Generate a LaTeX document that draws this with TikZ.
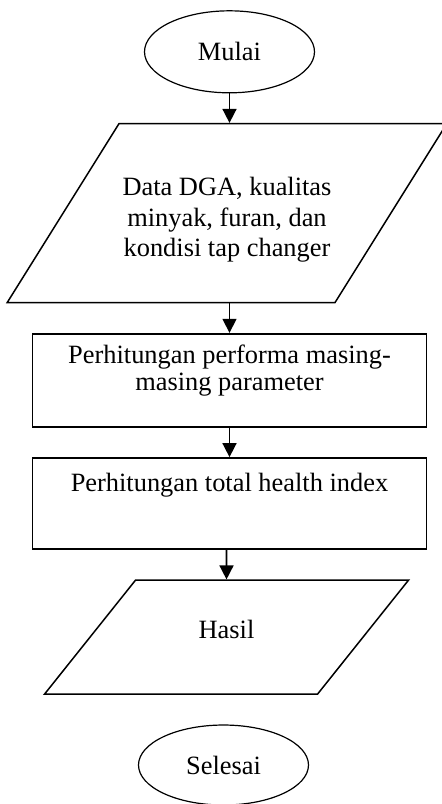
\documentclass[tikz,border=0pt]{standalone}
\usepackage{fontspec}
\setmainfont{Liberation Serif}
\usetikzlibrary{matrix,arrows.meta,shapes.geometric}

\begin{document}
\begin{tikzpicture}[
	terminal/.style={ellipse, draw, line width=1.2pt, minimum width=170pt, minimum height=82pt},
	masukan/.style={trapezium, draw, line width=1.5pt, inner xsep=0pt},
	proses/.style={rectangle, draw, line width=1.8pt, minimum width=394pt},
	panah/.style={-{Triangle[length=14pt,width=14pt]}, line width=1.6pt}
]
\useasboundingbox (0,0) rectangle (442pt,-804pt);
\matrix (m) at (227pt,-10pt) [matrix of nodes, anchor=north, inner sep=0pt, row sep=29.5pt, nodes={font=\fontsize{26.4}{30.4}\selectfont}]
{
	|[terminal]| Mulai \\
	|[masukan, trapezium left angle=58, trapezium right angle=122, inner ysep=37pt, xshift=-2.5pt]| \makebox[216pt]{\begin{tabular}{@{}c@{}}\rule{0pt}{35pt}Data DGA, kualitas\\minyak, furan, dan\\kondisi tap changer\end{tabular}} \\
	|[proses, minimum height=93pt]| \begin{tabular}{@{}c@{}}Perhitungan performa masing-\\[-3pt]masing parameter\\[-12pt]\mbox{}\end{tabular} \\
	|[proses, minimum height=91pt]| \begin{tabular}{@{}c@{}}Perhitungan total health index\\[6pt]\mbox{}\end{tabular} \\
	|[masukan, trapezium left angle=51.4, trapezium right angle=128.6, text width=182pt, align=center, text height=20pt, text depth=18pt, inner ysep=38pt, xshift=-3pt]| Hasil \\
	|[terminal, minimum height=80pt, xshift=-6pt]| Selesai \\
};
\path[panah]
(m-1-1) edge (m-1-1 |- m-2-1.north)
(m-2-1.south -| m-1-1) edge (m-1-1 |- m-3-1.north)
(m-3-1) edge (m-4-1)
(m-4-1.south -| m-5-1) edge (m-5-1)
;
\end{tikzpicture}
\end{document}
